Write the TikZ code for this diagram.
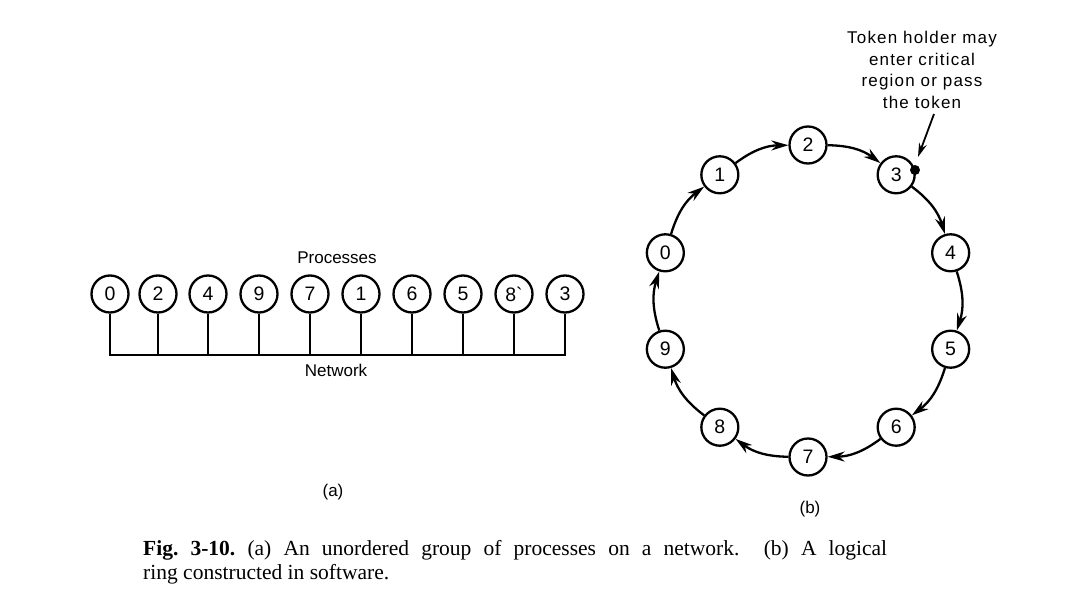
\documentclass[tikz,border=0pt]{standalone}
\usepackage{fontspec}
\setmainfont{Liberation Serif}
\newfontfamily\lblfont{Liberation Sans}
\newfontfamily\notefont[LetterSpace=7]{Liberation Sans}
\newfontfamily\numfont[Ligatures=TeXOff]{Liberation Sans}
\usetikzlibrary{arrows.meta,calc}
\begin{document}
\frenchspacing
\begin{tikzpicture}[x=1pt,y=-1pt,
  proc/.style={circle,draw,line width=2.3pt,minimum size=37pt,inner sep=0pt,
    font=\numfont\fontsize{19.5}{19.5}\selectfont},
  wire/.style={line width=2.3pt},
  ringarrow/.style={line width=2.3pt,-{Stealth[length=17pt,width=10pt]}},
  lbl/.style={font=\lblfont\fontsize{17}{21.5}\selectfont},
  note/.style={font=\notefont\fontsize{17}{21.5}\selectfont},
  capfont/.style={font=\fontsize{21.5}{24}\selectfont}]
\useasboundingbox (0,0) rectangle (1071,594);

% (a) processes on a network
\foreach \nm/\x/\t in {a0/110/0,a2/158/2,a4/208/4,a9/259/9,a7/310/7,a1/361/1,a6/412/6,a5/463/5,a8/514/{8`},a3/565/3}
  \node[proc] (\nm) at (\x,294) {\t};
\coordinate (bus) at (110,355);
\draw[wire] (a0.south) |- (a3.south |- bus) -- (a3.south);
\foreach \nm in {a2,a4,a9,a7,a1,a6,a5,a8}
  \draw[wire] (\nm.south) -- (\nm.south |- bus);
\node[lbl] (proclbl) at (337,258) {Processes};
\node[lbl] (netlbl) at (336,370) {Network};
\node[lbl] (sublbla) at (333,492) {(a)};

% (b) logical ring
\foreach \k in {0,...,9}
  \node[proc] (r\k) at ({808+150*cos(162-36*\k)},{301-156*sin(162-36*\k)}) {\k};
\foreach \k in {0,...,9}{
  \pgfmathtruncatemacro\j{mod(\k+1,10)}
  \draw[ringarrow] (r\k) to[bend left=18] (r\j);
}
\node[circle,fill,inner sep=0pt,minimum size=10pt] (tokdot) at (915,170) {};
\node[note,align=center] (toknote) at (922,70)
  {Token holder may\\enter critical\\region or pass\\the token};
\coordinate (tokfrom) at (934,114);
\coordinate (toktip) at (918,157);
\draw[line width=1.8pt,-{Stealth[length=14pt,width=8pt]}] (tokfrom) -- (toktip);
\node[lbl] (sublblb) at (810,509) {(b)};

% caption
\node[capfont,anchor=base west,inner sep=0pt] (cap1) at (143,555)
  {\makebox[744pt][s]{\textbf{Fig.\ 3-10.} (a) An unordered group of processes on a network.\ \ (b) A logical}};
\node[capfont,anchor=base west,inner sep=0pt] (cap2) at (143,579)
  {ring constructed in software.};
\end{tikzpicture}
\end{document}
